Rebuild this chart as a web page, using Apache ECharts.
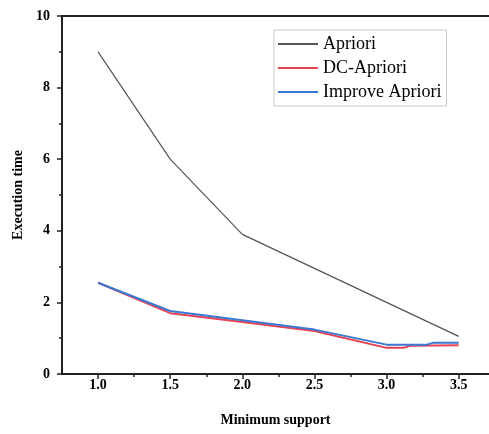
<!DOCTYPE html>
<html>
<head>
<meta charset="utf-8">
<script src="https://cdn.jsdelivr.net/npm/echarts@6/dist/echarts.min.js"></script>
<style>
  html, body { margin: 0; padding: 0; background: #fff; }
  #main { width: 489px; height: 434px; }
</style>
</head>
<body>
<div id="main"></div>
<script>
// 数据
var seriesNames = ['Apriori', 'DC-Apriori', 'Improve Apriori'];
var aprioriX = [1.0, 1.5, 2.0, 2.5, 3.0, 3.5];
var aprioriY = [9.0, 6.0, 3.9, 2.95, 2.0, 1.05];
var dcX = [1.0, 1.5, 2.0, 2.5, 3.0, 3.12, 3.16, 3.5];
var dcY = [2.55, 1.7, 1.45, 1.2, 0.73, 0.73, 0.79, 0.8];
var improveX = [1.0, 1.5, 2.0, 2.5, 3.0, 3.28, 3.32, 3.5];
var improveY = [2.55, 1.76, 1.5, 1.24, 0.82, 0.82, 0.87, 0.87];
var xMajor = [1.0, 1.5, 2.0, 2.5, 3.0, 3.5];
var xMinor = [1.25, 1.75, 2.25, 2.75, 3.25];

function pairs(xs, ys) {
    return xs.map(function (x, i) { return [x, ys[i]]; });
}

var serif = '"Liberation Serif", "DejaVu Serif", serif';
var axisColor = '#222';
var xMin = 0.75, xMax = 3.71;
var chart = echarts.init(document.getElementById('main'));

chart.setOption({
    animation: false,
    grid: { left: 62, top: 16, right: 0, bottom: 60 },
    legend: {
        left: 274, top: 30,
        orient: 'vertical',
        data: seriesNames,
        icon: 'rect',
        itemWidth: 40, itemHeight: 2, itemGap: 6,
        padding: [5, 5, 5, 4],
        borderColor: '#c8c8c8', borderWidth: 1,
        textStyle: { fontFamily: serif, fontSize: 18, color: '#000' }
    },
    xAxis: [{
        type: 'value', min: xMin, max: xMax,
        name: 'Minimum support', nameLocation: 'middle', nameGap: 39,
        nameTextStyle: { fontFamily: serif, fontSize: 14, fontWeight: 'bold', color: '#000' },
        axisLine: { lineStyle: { color: axisColor, width: 2 } },
        axisTick: { length: 5, lineStyle: { color: axisColor, width: 1.5 }, customValues: xMajor },
        axisLabel: {
            customValues: xMajor, margin: 4,
            fontFamily: serif, fontSize: 14, fontWeight: 'bold', color: '#000',
            formatter: function (v) { return v.toFixed(1); }
        },
        splitLine: { show: false }
    }, {
        // 次刻度
        type: 'value', min: xMin, max: xMax, position: 'bottom',
        axisLine: { show: false },
        axisTick: { length: 3, lineStyle: { color: axisColor, width: 1.5 }, customValues: xMinor },
        axisLabel: { show: false },
        splitLine: { show: false }
    }, {
        // 顶部边框
        type: 'value', min: xMin, max: xMax, position: 'top',
        axisLine: { lineStyle: { color: axisColor, width: 2 } },
        axisTick: { show: false },
        axisLabel: { show: false },
        splitLine: { show: false }
    }],
    yAxis: {
        type: 'value', min: 0, max: 10, interval: 2,
        name: 'Execution time', nameLocation: 'middle', nameGap: 36,
        nameTextStyle: { fontFamily: serif, fontSize: 14, fontWeight: 'bold', color: '#000' },
        axisLine: { show: true, lineStyle: { color: axisColor, width: 2 } },
        axisTick: { length: 5, lineStyle: { color: axisColor, width: 1.5 } },
        minorTick: { show: true, splitNumber: 2, length: 3, lineStyle: { color: axisColor, width: 1.5 } },
        axisLabel: { margin: 12, fontFamily: serif, fontSize: 14, fontWeight: 'bold', color: '#000' },
        splitLine: { show: false }
    },
    series: [{
        name: 'Apriori', type: 'line', symbol: 'none',
        data: pairs(aprioriX, aprioriY),
        lineStyle: { color: '#555', width: 1.2 }, itemStyle: { color: '#555' }
    }, {
        name: 'DC-Apriori', type: 'line', symbol: 'none',
        data: pairs(dcX, dcY),
        lineStyle: { color: '#e4434f', width: 2 }, itemStyle: { color: '#e4434f' }
    }, {
        name: 'Improve Apriori', type: 'line', symbol: 'none',
        data: pairs(improveX, improveY),
        lineStyle: { color: '#3a78d4', width: 2 }, itemStyle: { color: '#3a78d4' }
    }]
});
</script>
</body>
</html>
